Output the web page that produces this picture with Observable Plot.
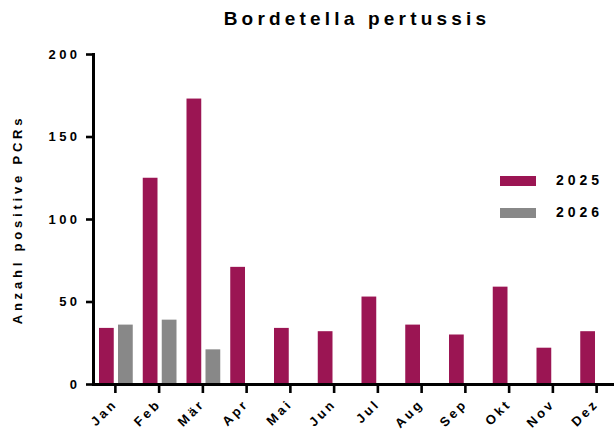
<!DOCTYPE html>
<html>
<head>
<meta charset="utf-8">
<script src="https://cdn.jsdelivr.net/npm/d3@7"></script>
<script src="https://cdn.jsdelivr.net/npm/@observablehq/plot@0.6"></script>
<style>
  html, body { margin: 0; padding: 0; background: #fff; }
  #wrap { position: relative; width: 614px; height: 436px; overflow: hidden; font-family: "Liberation Sans", Arial, sans-serif; }
  #title { position: absolute; left: 0; top: 8px; width: 714px; text-align: center; font-weight: bold; font-size: 19px; letter-spacing: 4.2px; color: #000; }
  .legend { position: absolute; left: 500px; font-weight: bold; font-size: 14px; letter-spacing: 4px; color: #000; }
  .legend .sw { position: absolute; left: 0; top: 0; width: 36px; height: 10px; }
  .legend .lb { position: absolute; left: 56px; top: -4px; }
  .chart text { font-family: "Liberation Sans", Arial, sans-serif; font-weight: bold; fill: #000; }
  .chart g[aria-label="y-axis tick label"] text { letter-spacing: 3.4px; font-size: 13px; }
  .chart g[aria-label="x-axis tick label"] text { letter-spacing: 3px; font-size: 13px; }
  .chart g[aria-label="y-axis label"] text { letter-spacing: 3.8px; font-size: 13px; }
</style>
</head>
<body>
<div id="wrap">
  <div id="chart"></div>
  <div id="title">Bordetella pertussis</div>
  <div id="legend"></div>
</div>
<script>
const months = ["Jan","Feb","Mär","Apr","Mai","Jun","Jul","Aug","Sep","Okt","Nov","Dez"];
const values2025 = [34,125,173,71,34,32,53,36,30,59,22,32];
const values2026 = [36,39,21];
const years = ["2025","2026"];
const colors = ["#9b1553","#888888"];
const yTicks = [0,50,100,150,200];

const data2025 = months.map((m,i) => ({month: m, value: values2025[i], year: years[0]}));
const data2026 = values2026.map((v,i) => ({month: months[i], value: v, year: years[1]}));

const chart = Plot.plot({
  className: "chart",
  width: 614,
  height: 436,
  marginTop: 54,
  marginBottom: 52,
  marginLeft: 93,
  marginRight: -4,
  style: {background: "transparent", overflow: "visible"},
  x: {domain: months, padding: 0, round: false, label: null},
  y: {domain: [0, 200], label: null},
  color: {domain: years, range: colors},
  marks: [
    Plot.barY(data2025, {x: "month", y: "value", fill: "year", insetLeft: 6, insetRight: 23}),
    Plot.barY(data2026, {x: "month", y: "value", fill: "year", insetLeft: 25, insetRight: 4}),
    Plot.axisY({ticks: yTicks, tickSize: 7, tickPadding: 6, strokeWidth: 2.6,
      label: "Anzahl positive PCRs", labelAnchor: "center", labelOffset: 81, labelArrow: "none"}),
    Plot.axisX({tickSize: 9, tickPadding: 8, tickRotate: -45, strokeWidth: 2.6, label: null}),
    Plot.ruleY([0], {stroke: "#000", strokeWidth: 3}),
    Plot.frame({anchor: "left", stroke: "#000", strokeWidth: 3})
  ]
});
document.getElementById("chart").appendChild(chart);

const legend = document.getElementById("legend");
years.forEach((y, i) => {
  const d = document.createElement("div");
  d.className = "legend";
  d.style.top = (176 + 32 * i) + "px";
  d.innerHTML = `<div class="sw" style="background:${colors[i]}"></div><div class="lb">${y}</div>`;
  legend.appendChild(d);
});
</script>
</body>
</html>
